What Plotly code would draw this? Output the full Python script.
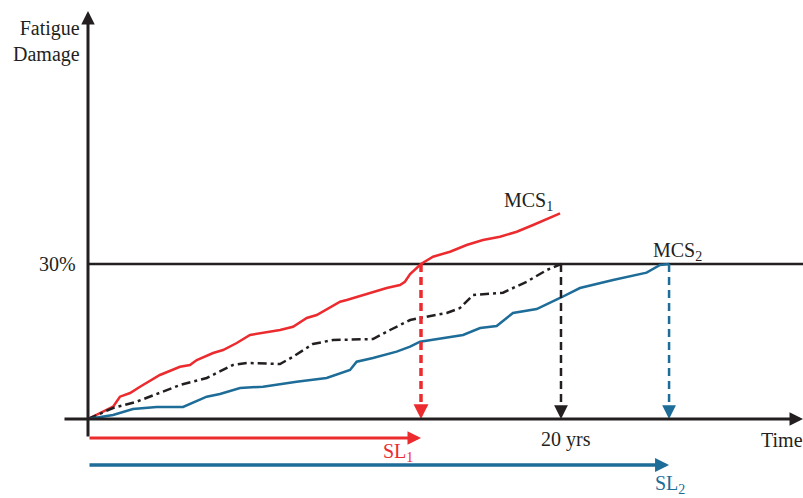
import plotly.graph_objects as go

# --- data -------------------------------------------------------------
# Cumulative fatigue damage (%) against service time (years)
t_mcs1 = [0, 1.06, 1.35, 1.78, 2.20, 2.48, 3.04, 3.89, 4.31, 4.60, 5.29, 5.71, 6.29,
          6.85, 7.34, 8.12, 8.67, 9.25, 9.67, 10.66, 10.94, 12.63, 13.19, 13.40,
          13.62, 14.08, 14.59, 15.31, 16.01, 16.70, 17.42, 18.13, 18.82, 19.53, 19.96]
d_mcs1 = [0, 2.38, 4.32, 5.03, 6.25, 6.97, 8.52, 10.12, 10.45, 11.42, 12.77, 13.35, 14.71,
          16.26, 16.65, 17.23, 17.86, 19.55, 20.13, 22.70, 23.03, 25.35, 25.94, 26.57,
          28.06, 30.0, 31.41, 32.38, 33.68, 34.64, 35.28, 36.25, 37.55, 38.90, 39.81]

t_design = [0, 1.06, 2.06, 3.04, 3.89, 5.02, 5.58, 6.13, 6.71, 8.12, 8.67, 9.51, 10.36,
            12.05, 12.77, 13.62, 14.04, 15.17, 15.73, 16.28, 17.55, 18.55, 19.40, 20.0]
d_design = [0, 2.13, 3.35, 5.03, 6.58, 7.94, 9.15, 10.45, 10.84, 10.65, 12.06, 14.52, 15.29,
            15.48, 17.23, 19.16, 19.55, 20.52, 21.48, 24.00, 24.45, 26.57, 28.84, 30.0]

t_mcs2 = [0, 1.06, 1.90, 2.90, 4.02, 5.02, 5.58, 6.43, 7.40, 8.82, 10.09, 10.66, 11.08,
          11.36, 12.05, 13.05, 13.62, 14.04, 15.86, 16.58, 17.28, 17.97, 18.97, 19.96,
          20.80, 22.20, 23.62, 24.19, 24.57]
d_mcs2 = [0, 0.77, 1.94, 2.32, 2.32, 4.32, 4.84, 6.00, 6.25, 7.22, 7.94, 8.90, 9.48,
          11.09, 11.81, 13.03, 13.99, 14.96, 16.26, 17.61, 18.00, 20.52, 21.29, 23.42,
          25.35, 26.90, 28.32, 29.81, 30.0]

threshold = 30          # damage limit (%)
design_life = 20        # years
sl_1 = 14.08            # service life reached by MCS1 (years)
sl_2 = 24.57            # service life reached by MCS2 (years)

# --- style ------------------------------------------------------------
RED = "#EC2B2F"
BLUE = "#1E6C98"
INK = "#231F20"
FONT = "Liberation Serif, Times New Roman, DejaVu Serif, serif"
FS = 20

W, H = 803, 498
X_RANGE = [-3.721, 30.233]
Y_RANGE = [-15.29, 81.10]
x_end = X_RANGE[1]

fig = go.Figure()

fig.add_trace(go.Scatter(x=t_mcs1, y=d_mcs1, mode="lines",
                         line=dict(color=RED, width=2.5), hoverinfo="skip"))
fig.add_trace(go.Scatter(x=t_design, y=d_design, mode="lines",
                         line=dict(color=INK, width=2.5, dash="9px,4px,3px,4px"),
                         hoverinfo="skip"))
fig.add_trace(go.Scatter(x=t_mcs2, y=d_mcs2, mode="lines",
                         line=dict(color=BLUE, width=2.5), hoverinfo="skip"))

# damage threshold line
fig.add_shape(type="line", x0=0, x1=x_end, y0=threshold, y1=threshold,
              line=dict(color=INK, width=2.5), layer="below")

# dashed drops from the threshold to the time axis
for xv, col, w in [(sl_1, RED, 3.5), (design_life, INK, 2.5), (sl_2, BLUE, 2.5)]:
    fig.add_shape(type="line", x0=xv, x1=xv, y0=threshold, y1=2.2,
                  line=dict(color=col, width=w, dash="8px,5px"))
    fig.add_annotation(x=xv, y=0, ax=0, ay=-14, showarrow=True, text="",
                       arrowhead=2, arrowsize=0.85 if w > 3 else 1.1,
                       arrowwidth=w, arrowcolor=col, standoff=0)

annotations = []

def arrow(x0, y0, x1, y1, color, width, size):
    annotations.append(dict(x=x1, y=y1, ax=x0, ay=y0, xref="x", yref="y",
                            axref="x", ayref="y", showarrow=True, text="",
                            arrowhead=2, arrowsize=size, arrowwidth=width,
                            arrowcolor=color, standoff=0))

# axes with arrow tips
arrow(-1.057, 0, x_end, 0, INK, 3, 0.9)
arrow(0, -3.68, 0, 78.97, INK, 3, 0.9)
# service-life spans
arrow(0, -3.68, sl_1, -3.68, RED, 3, 0.9)
arrow(0, -8.90, sl_2, -8.90, BLUE, 3.5, 0.8)

for a in annotations:
    fig.add_annotation(**a)

def label(text, x, y, color=INK, xanchor="center", xref="x", yref="y", align="center"):
    fig.add_annotation(x=x, y=y, xref=xref, yref=yref, text=text, showarrow=False,
                       font=dict(family=FONT, size=FS, color=color),
                       xanchor=xanchor, yanchor="middle", align=align)

label("Fatigue<br>Damage", 82 / W, 1 - 41 / H, xanchor="right",
      xref="paper", yref="paper", align="right")
label("30%", 78 / W, threshold, xanchor="right", xref="paper")
label("20 yrs", design_life + 0.2, -4.0)
label("Time", 782 / W, -4.0, xref="paper")
label("MCS<sub>1</sub>", 528 / W, 1 - 201 / H, xref="paper", yref="paper")
label("MCS<sub>2</sub>", 677 / W, 1 - 251 / H, xref="paper", yref="paper")
label("SL<sub>1</sub>", 398 / W, 1 - 452 / H, color=RED, xref="paper", yref="paper")
label("SL<sub>2</sub>", 670 / W, 1 - 484 / H, color=BLUE, xref="paper", yref="paper")

fig.update_layout(
    width=W, height=H,
    margin=dict(l=0, r=0, t=0, b=0),
    paper_bgcolor="white", plot_bgcolor="white",
    showlegend=False,
    xaxis=dict(range=X_RANGE, visible=False, fixedrange=True),
    yaxis=dict(range=Y_RANGE, visible=False, fixedrange=True),
)

fig.write_html("out.html")
